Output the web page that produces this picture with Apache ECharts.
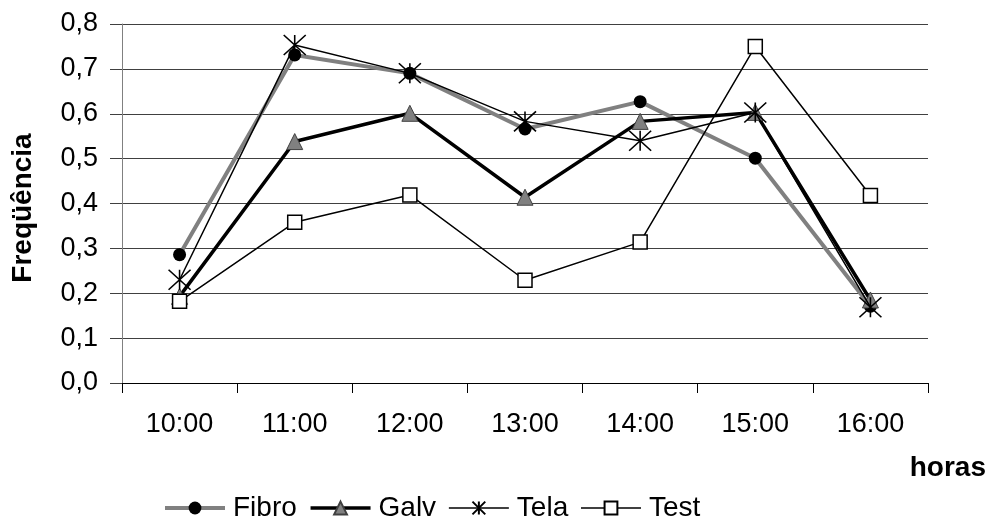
<!DOCTYPE html>
<html>
<head>
<meta charset="utf-8">
<script src="https://cdn.jsdelivr.net/npm/echarts@6/dist/echarts.min.js"></script>
<style>html,body{margin:0;padding:0;background:#fff}#c{width:989px;height:517px}</style>
</head>
<body>
<div id="c"></div>
<script>
var categories = ['10:00','11:00','12:00','13:00','14:00','15:00','16:00'];
var fibro = [0.286, 0.731, 0.690, 0.566, 0.627, 0.501, 0.171];
var galv  = [0.193, 0.538, 0.601, 0.414, 0.583, 0.603, 0.185];
var tela  = [0.230, 0.753, 0.690, 0.583, 0.540, 0.603, 0.169];
var test  = [0.182, 0.358, 0.419, 0.229, 0.314, 0.750, 0.418];
var seriesNames = ['Fibro','Galv','Tela','Test'];
var yAxisTitle = 'Freqüência';
var xAxisTitle = 'horas';

var FONT = '"Liberation Sans", Arial, sans-serif';
var starPath = 'path://M0,0L20,20M20,0L0,20M10,0L10,20';

var chart = echarts.init(document.getElementById('c'), null, {renderer: 'canvas'});
chart.setOption({
  animation: false,
  backgroundColor: '#fff',
  textStyle: {fontFamily: FONT},
  grid: {left: 122, right: 61, top: 24, bottom: 134},
  xAxis: {
    type: 'category',
    data: categories,
    boundaryGap: true,
    axisLine: {lineStyle: {color: '#000', width: 1}},
    axisTick: {show: true, length: 10, inside: false, lineStyle: {color: '#000'}},
    axisLabel: {color: '#000', fontSize: 27, fontFamily: FONT, margin: 28}
  },
  yAxis: {
    type: 'value',
    min: 0, max: 0.8, interval: 0.1,
    axisLine: {show: true, lineStyle: {color: '#808080', width: 1}},
    axisTick: {show: true, length: 12, lineStyle: {color: '#404040'}},
    axisLabel: {color: '#000', fontSize: 27, fontFamily: FONT, margin: 24,
      formatter: function (v) { return v.toFixed(1).replace('.', ','); }},
    splitLine: {show: true, lineStyle: {color: '#404040', width: 1}}
  },
  legend: {
    top: 489,
    left: 158,
    itemWidth: 60,
    itemHeight: 16,
    itemGap: 12,
    textStyle: {color: '#000', fontSize: 28, fontFamily: FONT, padding: [0,0,0,3]},
    data: [
      {name: seriesNames[0], lineStyle: {color: '#808080', width: 4}},
      {name: seriesNames[1], lineStyle: {color: '#000', width: 3.5}},
      {name: seriesNames[2], lineStyle: {color: '#000', width: 1.5}},
      {name: seriesNames[3], lineStyle: {color: '#000', width: 1.5}}
    ]
  },
  graphic: [{
    type: 'text',
    right: 3,
    top: 454,
    style: {text: xAxisTitle, font: 'bold 28px ' + FONT, fill: '#000'}
  }, {
    type: 'text',
    x: 23,
    y: 208,
    rotation: Math.PI / 2,
    style: {text: yAxisTitle, font: 'bold 28px ' + FONT, fill: '#000',
      textAlign: 'center', textVerticalAlign: 'middle'}
  }],
  series: [
    {
      name: seriesNames[0], type: 'line', data: fibro,
      symbol: 'circle', symbolSize: 13,
      itemStyle: {color: '#000'},
      lineStyle: {color: '#808080', width: 4},
      z: 2
    },
    {
      name: seriesNames[1], type: 'line', data: galv,
      symbol: 'triangle', symbolSize: 16,
      itemStyle: {color: '#808080', borderColor: '#404040', borderWidth: 1},
      lineStyle: {color: '#000', width: 3.5},
      z: 3
    },
    {
      name: seriesNames[2], type: 'line', data: tela,
      symbol: starPath, symbolSize: [22, 20],
      itemStyle: {color: 'rgba(0,0,0,0)', borderColor: '#000', borderWidth: 1.5},
      lineStyle: {color: '#000', width: 1.5},
      z: 4
    },
    {
      name: seriesNames[3], type: 'line', data: test,
      symbol: 'rect', symbolSize: 14,
      itemStyle: {color: '#fff', borderColor: '#000', borderWidth: 1.5},
      lineStyle: {color: '#000', width: 1.5},
      z: 5
    }
  ]
});
</script>
</body>
</html>
